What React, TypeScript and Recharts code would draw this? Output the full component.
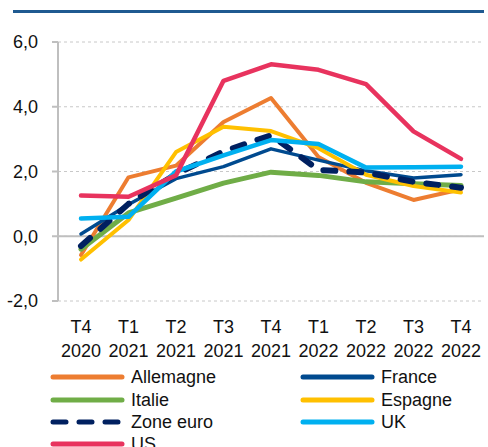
import React from 'react';
import { LineChart, Line, XAxis, YAxis, CartesianGrid, ReferenceLine } from 'recharts';

const quarters = ['T4', 'T1', 'T2', 'T3', 'T4', 'T1', 'T2', 'T3', 'T4'];
const years = ['2020', '2021', '2021', '2021', '2021', '2022', '2022', '2022', '2022'];

const allemagne = [-0.58, 1.82, 2.18, 3.53, 4.27, 2.45, 1.65, 1.12, 1.45];
const france = [0.07, 0.98, 1.78, 2.15, 2.7, 2.35, 2.02, 1.8, 1.9];
const italie = [-0.4, 0.72, 1.18, 1.64, 1.98, 1.88, 1.68, 1.62, 1.57];
const espagne = [-0.72, 0.5, 2.6, 3.38, 3.25, 2.72, 1.9, 1.55, 1.35];
const zoneEuro = [-0.3, 1.0, 1.92, 2.62, 3.12, 2.05, 1.97, 1.68, 1.5];
const uk = [0.55, 0.6, 2.0, 2.5, 2.97, 2.85, 2.12, 2.13, 2.15];
const us = [1.26, 1.22, 1.88, 4.8, 5.31, 5.14, 4.7, 3.24, 2.39];

const yTicks = [-2, 0, 2, 4, 6];

const series = [
  { key: 'Allemagne', values: allemagne, color: '#ED7D31', width: 4, dashed: false },
  { key: 'France', values: france, color: '#004A8F', width: 3.5, dashed: false },
  { key: 'Italie', values: italie, color: '#70AD47', width: 5, dashed: false },
  { key: 'Espagne', values: espagne, color: '#FFC000', width: 4, dashed: false },
  { key: 'Zone euro', values: zoneEuro, color: '#002060', width: 6, dashed: true },
  { key: 'UK', values: uk, color: '#00B0F0', width: 4.5, dashed: false },
  { key: 'US', values: us, color: '#E8335E', width: 4.5, dashed: false },
];

const data = quarters.map((q, i) => {
  const row: Record<string, any> = { cat: `${q} ${years[i]}`, q, yr: years[i] };
  series.forEach((s) => {
    row[s.key] = s.values[i];
  });
  return row;
});

const FONT = '"Liberation Sans", Arial, sans-serif';

const XTick = (props: any) => {
  const { x, y, payload } = props;
  const [q, yr] = String(payload.value).split(' ');
  return (
    <text x={x} y={y} textAnchor="middle" fontFamily={FONT} fontSize={18} fill="#111">
      <tspan x={x} dy={24}>{q}</tspan>
      <tspan x={x} dy={23.5}>{yr}</tspan>
    </text>
  );
};

const legendOrder = [
  ['Allemagne', 'France'],
  ['Italie', 'Espagne'],
  ['Zone euro', 'UK'],
  ['US'],
];

const LegendItem = ({ name }: { name: string }) => {
  const s = series.find((x) => x.key === name)!;
  return (
    <div style={{ display: 'flex', alignItems: 'center', height: 22.4 }}>
      <svg width={81} height={10} style={{ display: 'block', flexShrink: 0 }}>
        <line
          x1={3}
          x2={72}
          y1={5}
          y2={5}
          stroke={s.color}
          strokeWidth={5}
          strokeLinecap="round"
          strokeDasharray={s.dashed ? '13 13' : undefined}
        />
      </svg>
      <span style={{ fontFamily: FONT, fontSize: 18, color: '#111', lineHeight: '22px', whiteSpace: 'nowrap' }}>{name}</span>
    </div>
  );
};

export default function App() {
  return (
    <div style={{ position: 'absolute', left: 0, top: 0, width: 488, height: 447, overflow: 'hidden', background: '#fff' }}>
      <div style={{ position: 'absolute', left: 13, top: 10, width: 471, height: 3, background: '#1F5A91' }} />
      <LineChart width={488} height={447} data={data} margin={{ top: 42, right: 4, left: 0, bottom: 86 }}>
        <CartesianGrid vertical={false} stroke="#c8c8c8" strokeDasharray="3 3" strokeWidth={1} />
        <XAxis
          dataKey="cat"
          axisLine={false}
          tickLine={false}
          interval={0}
          height={60}
          padding={{ left: 23, right: 23 }}
          tick={<XTick />}
        />
        <YAxis
          domain={[-2, 6]}
          ticks={yTicks}
          width={58}
          axisLine={{ stroke: '#bfbfbf', strokeWidth: 2 }}
          tickLine={{ stroke: '#bfbfbf', strokeWidth: 2 }}
          tickSize={6}
          tickMargin={14}
          tickFormatter={(v: number) => v.toFixed(1).replace('.', ',')}
          tick={{ fontFamily: FONT, fontSize: 18, fill: '#111' }}
        />
        <ReferenceLine y={0} stroke="#bfbfbf" strokeWidth={2} />
        {series.map((s) => (
          <Line
            key={s.key}
            dataKey={s.key}
            stroke={s.color}
            strokeWidth={s.width}
            strokeDasharray={s.dashed ? '12 14' : undefined}
            strokeLinecap="round"
            strokeLinejoin="round"
            dot={false}
            activeDot={false}
            type="linear"
            isAnimationActive={false}
          />
        ))}
      </LineChart>
      <div style={{ position: 'absolute', left: 50, top: 366, width: 520 }}>
        {legendOrder.map((row, i) => (
          <div key={i} style={{ display: 'flex' }}>
            {row.map((name) => (
              <div key={name} style={{ width: 250, flexShrink: 0 }}>
                <LegendItem name={name} />
              </div>
            ))}
          </div>
        ))}
      </div>
    </div>
  );
}
